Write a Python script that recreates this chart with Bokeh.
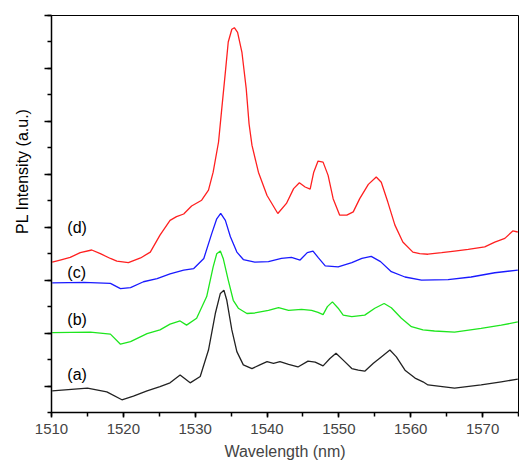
from bokeh.plotting import figure
from bokeh.models import SingleIntervalTicker, Label, Range1d, Title
from bokeh.embed import file_html
from bokeh.resources import INLINE

# ---- data (wavelength nm, PL intensity in arbitrary offset units) ----
wl_d = [1510.1, 1511.2, 1512.6, 1514.0, 1515.6, 1516.8, 1518.2, 1519.1, 1520.7, 1522.4, 1523.75, 1525.1,
        1526.5, 1527.4, 1528.4, 1529.5, 1530.9, 1531.85, 1532.5, 1533.25, 1533.7, 1534.2, 1534.6, 1535.1,
        1535.45, 1535.9, 1536.5, 1537.1, 1537.5, 1537.9, 1538.8, 1540.0, 1541.5, 1542.7, 1543.7, 1544.5,
        1545.3, 1546.0, 1546.5, 1547.1, 1547.8, 1548.5, 1549.2, 1550.1, 1551.1, 1552.0, 1552.9, 1554.1,
        1555.2, 1555.9, 1556.8, 1557.8, 1558.9, 1560.3, 1561.25, 1562.4, 1564.3, 1566.1, 1568.0, 1570.3,
        1571.7, 1573.1, 1574.2, 1574.9]
pl_d = [2.34, 2.38, 2.43, 2.52, 2.57, 2.50, 2.41, 2.36, 2.33, 2.42, 2.53, 2.85,
        3.13, 3.20, 3.25, 3.40, 3.51, 3.70, 4.04, 4.61, 5.24, 5.93, 6.50, 6.74,
        6.77, 6.68, 6.31, 5.62, 4.95, 4.55, 4.04, 3.60, 3.26, 3.45, 3.73, 3.84,
        3.76, 3.72, 4.04, 4.25, 4.23, 3.98, 3.54, 3.23, 3.23, 3.29, 3.54, 3.81,
        3.95, 3.85, 3.48, 3.04, 2.72, 2.53, 2.50, 2.49, 2.52, 2.55, 2.58, 2.63,
        2.72, 2.79, 2.93, 2.91]

wl_c = [1510.1, 1514.5, 1518.2, 1519.6, 1521.0, 1522.8, 1524.7, 1526.5, 1528.4, 1529.8, 1531.2, 1532.3,
        1533.0, 1533.55, 1534.2, 1534.9, 1535.8, 1536.7, 1538.3, 1540.2, 1542.0, 1543.4, 1544.6, 1545.6,
        1546.4, 1547.1, 1548.1, 1549.9, 1551.8, 1553.2, 1554.5, 1555.8, 1557.3, 1559.2, 1561.5, 1565.2,
        1568.4, 1571.7, 1574.9]
pl_c = [1.95, 1.96, 1.94, 1.84, 1.86, 1.97, 2.03, 2.12, 2.19, 2.22, 2.41, 2.88,
        3.16, 3.26, 3.13, 2.82, 2.53, 2.39, 2.34, 2.35, 2.41, 2.43, 2.38, 2.52,
        2.55, 2.43, 2.27, 2.25, 2.33, 2.41, 2.45, 2.35, 2.16, 2.06, 2.00, 2.01,
        2.06, 2.14, 2.19]

wl_b = [1510.1, 1515.4, 1518.2, 1519.6, 1521.0, 1523.3, 1525.1, 1526.5, 1527.9, 1528.8, 1530.2, 1531.6,
        1532.5, 1533.0, 1533.5, 1533.9, 1534.6, 1535.3, 1536.0, 1537.2, 1538.3, 1540.2, 1541.6, 1543.0,
        1544.8, 1546.2, 1547.1, 1547.8, 1548.4, 1549.1, 1549.9, 1550.6, 1551.8, 1553.6, 1555.0, 1556.3,
        1557.3, 1558.7, 1560.1, 1561.7, 1563.3, 1566.1, 1569.8, 1572.6, 1574.9]
pl_b = [1.01, 1.02, 0.98, 0.79, 0.84, 0.99, 1.06, 1.17, 1.23, 1.15, 1.28, 1.69,
        2.25, 2.50, 2.55, 2.41, 2.00, 1.62, 1.47, 1.37, 1.38, 1.43, 1.48, 1.43,
        1.45, 1.43, 1.39, 1.35, 1.50, 1.59, 1.47, 1.34, 1.31, 1.34, 1.47, 1.56,
        1.48, 1.28, 1.12, 1.06, 1.04, 1.02, 1.09, 1.15, 1.21]

wl_a = [1510.1, 1515.0, 1517.7, 1519.8, 1521.4, 1523.3, 1525.1, 1526.5, 1527.9, 1529.3, 1530.7, 1531.85,
        1532.8, 1533.5, 1534.0, 1534.4, 1535.1, 1535.8, 1536.7, 1537.9, 1539.0, 1540.0, 1540.9, 1541.8,
        1543.0, 1544.3, 1545.7, 1546.7, 1547.8, 1548.75, 1549.6, 1550.6, 1551.8, 1552.7, 1553.6, 1554.8,
        1555.9, 1557.1, 1558.0, 1559.2, 1560.6, 1561.7, 1562.4, 1566.1, 1569.8, 1572.6, 1574.9]
pl_a = [-0.09, -0.04, -0.11, -0.26, -0.19, -0.09, -0.01, 0.06, 0.21, 0.06, 0.18, 0.68,
        1.37, 1.75, 1.81, 1.62, 1.06, 0.65, 0.40, 0.33, 0.40, 0.46, 0.43, 0.46,
        0.41, 0.36, 0.47, 0.45, 0.38, 0.52, 0.62, 0.49, 0.33, 0.30, 0.28, 0.43,
        0.55, 0.68, 0.55, 0.30, 0.15, 0.08, 0.02, -0.04, 0.02, 0.08, 0.13]

series_names = ["(d)", "(c)", "(b)", "(a)"]
label_y = [3.0, 2.15, 1.25, 0.21]
label_x = 1512.2

# ---- figure ----
p = figure(width=519, height=464, output_backend="svg", toolbar_location=None,
           x_range=Range1d(1510, 1575), y_range=Range1d(-0.5, 7.0),
           min_border_left=51, min_border_right=1, min_border_top=15, min_border_bottom=52)
p.background_fill_color = "white"
p.border_fill_color = "white"
p.outline_line_color = "black"
p.outline_line_width = 1
p.xgrid.visible = False
p.ygrid.visible = False

p.line(wl_d, pl_d, line_color="#ff2020", line_width=1.3)
p.line(wl_c, pl_c, line_color="#1a1aff", line_width=1.3)
p.line(wl_b, pl_b, line_color="#1ee61e", line_width=1.3)
p.line(wl_a, pl_a, line_color="#222222", line_width=1.3)

for name, ly in zip(series_names, label_y):
    p.add_layout(Label(x=label_x, y=ly, text=name, text_font="Liberation Sans",
                       text_font_size="16px", text_color="black",
                       text_baseline="middle", text_align="left"))

# x axis
xa = p.xaxis[0]
xa.ticker = SingleIntervalTicker(interval=10, num_minor_ticks=2)
xa.axis_label = "Wavelength (nm)"
xa.axis_label_text_font = "Liberation Sans"
xa.axis_label_text_font_size = "16px"
xa.axis_label_text_font_style = "normal"
xa.axis_label_standoff = 6
xa.major_label_text_font = "Liberation Sans"
xa.major_label_text_font_size = "15px"
xa.major_label_standoff = 6
xa.major_tick_out = 5
xa.major_tick_in = 0
xa.minor_tick_out = 4
xa.minor_tick_in = 0
xa.axis_line_width = 1.5
xa.major_tick_line_width = 1.5
xa.minor_tick_line_width = 1.5

# y axis
ya = p.yaxis[0]
ya.ticker = SingleIntervalTicker(interval=1, num_minor_ticks=2)
ya.major_label_text_font_size = "0px"
ya.major_label_text_color = None
ya.major_tick_out = 7
ya.major_tick_in = 0
ya.minor_tick_out = 4
ya.minor_tick_in = 0
ya.axis_line_width = 1.5
ya.major_tick_line_width = 1.5
ya.minor_tick_line_width = 1.5

p.add_layout(Title(text="PL Intensity (a.u.)", align="right", offset=93,
                   vertical_align="top", standoff=24, text_font="Liberation Sans",
                   text_font_size="16px", text_font_style="normal", text_color="black"), "left")

open("out.html", "w").write(file_html(p, INLINE))
